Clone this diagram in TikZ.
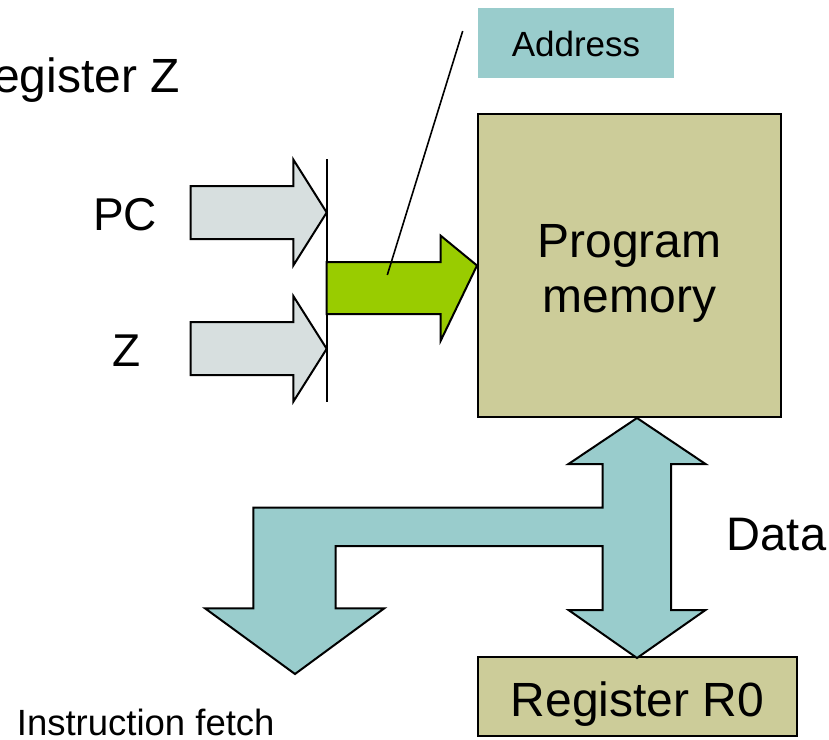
\documentclass[tikz,border=0pt]{standalone}
\usepackage{fontspec}
\setmainfont{Liberation Sans}
\definecolor{khaki}{HTML}{CCCC99}
\definecolor{teal}{HTML}{99CCCC}
\definecolor{pale}{HTML}{D7DFDF}
\definecolor{lime}{HTML}{99CC00}
\tikzset{
  blockarrow/.style={draw=black, line width=2pt, line join=miter},
  unitbox/.style={draw=black, line width=2pt, fill=khaki, inner sep=0pt},
  lbl/.style={inner sep=0pt, text=black},
}
\newcommand{\fsz}[1]{\fontsize{#1}{#1}\selectfont}
\begin{document}
\begin{tikzpicture}[x=1pt, y=-1pt]
\useasboundingbox (0,0) rectangle (829,739);
\clip (0,0) rectangle (829,739);

% caption at the top left
\node[lbl, anchor=base east, font=\fsz{48}] (regz) at (180,92) {Register Z};

% address tag
\node[fill=teal, inner sep=0pt, minimum width=196pt, minimum height=70pt] (addr) at (576,43) {};
\node[lbl, anchor=base, font=\fsz{35}] (addrtxt) at (576,56) {Address};

% program memory and register R0
\node[unitbox, minimum width=303pt, minimum height=303pt] (pm) at (629.5,265.5) {};
\node[lbl, anchor=base, font=\fsz{48}] (pmtxt1) at (629.5,257) {Program};
\node[lbl, anchor=base, font=\fsz{48}] (pmtxt2) at (629.5,312) {memory};
\node[unitbox, minimum width=319pt, minimum height=79pt] (r0) at (637.5,696.5) {};
\node[lbl, anchor=base, font=\fsz{48}] (r0txt) at (637.5,716) {Register R0};

% PC and Z inputs
\node[lbl, anchor=base, font=\fsz{46}] (pc) at (125,230.7) {PC};
\node[lbl, anchor=base, font=\fsz{46}] (z) at (127,366.7) {Z};
\draw[blockarrow, fill=pale] (190.7,186) -- (293.3,186) -- (293.3,159.5) -- (326.7,212.5)
  -- (293.3,265.5) -- (293.3,239) -- (190.7,239) -- cycle;
\draw[blockarrow, fill=pale] (190.7,322) -- (293.3,322) -- (293.3,296) -- (326.7,348.8)
  -- (293.3,401.7) -- (293.3,375) -- (190.7,375) -- cycle;

% multiplexer bar
\coordinate (bartop) at (326.7,159.3);
\coordinate (barbot) at (326.7,401.7);
\draw[line width=2pt] (bartop) -- (barbot);

% selected address into the memory
\draw[blockarrow, fill=lime] (326.7,262) -- (440.7,262) -- (440.7,235.7) -- (pm.west)
  -- (440.7,340.7) -- (440.7,314) -- (326.7,314) -- cycle;

% pointer from the address tag
\coordinate (ptrtop) at (462.7,31);
\coordinate (ptrend) at (387.3,275);
\draw[line width=1.6pt] (ptrtop) -- (ptrend);

% data bus with the branch to instruction fetch
\draw[blockarrow, fill=teal] (pm.south -| 637,0) -- (705.5,464) -- (671,464) -- (671,610)
  -- (705.5,610) -- (637,658) -- (568.5,610) -- (602.5,610) -- (602.5,546)
  -- (335.7,546) -- (335.7,608.3) -- (384.3,608.3) -- (295,674) -- (205,608.3)
  -- (253.3,608.3) -- (253.3,507.7) -- (602.5,507.7) -- (602.5,464) -- (568.5,464) -- cycle;

\node[lbl, anchor=base west, font=\fsz{47}] (data) at (726.7,550) {Data};
\node[lbl, anchor=base west, font=\fsz{36.5}] (fetch) at (16.7,735) {Instruction fetch};
\end{tikzpicture}
\end{document}
